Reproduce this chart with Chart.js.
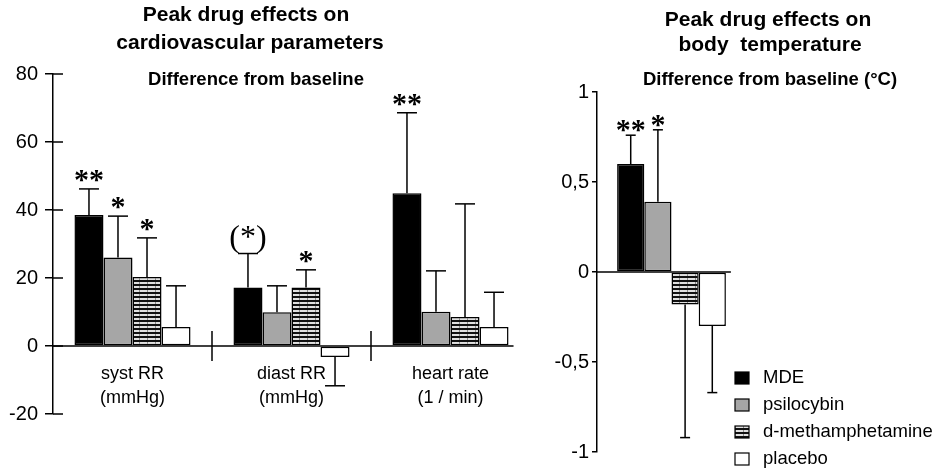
<!DOCTYPE html>
<html><head><meta charset="utf-8">
<script src="https://cdn.jsdelivr.net/npm/chart.js@4"></script>
<style>
html,body{margin:0;padding:0;background:#fff;}
#wrap{position:relative;width:936px;height:469px;overflow:hidden;}
#c1{position:absolute;left:0;top:0;}
#c2{position:absolute;left:540px;top:0;}
</style></head><body>
<div id="wrap"><canvas id="c1" width="540" height="469"></canvas><canvas id="c2" width="396" height="469"></canvas></div>
<script>
// ---------- data ----------
const seriesNames = ["MDE", "psilocybin", "d-methamphetamine", "placebo"];
const cvCategories = [["syst RR", "(mmHg)"], ["diast RR", "(mmHg)"], ["heart rate", "(1 / min)"]];
const cvMDE        = [38.5, 17.2, 44.9];
const cvPsilocybin = [26.0, 9.9, 10.1];
const cvMeth       = [20.3, 17.2, 8.5];
const cvPlacebo    = [5.6, -3.2, 5.6];
const cvErrMDE        = [7.7, 10.0, 23.7];
const cvErrPsilocybin = [12.2, 7.8, 12.0];
const cvErrMeth       = [11.5, 5.2, 33.3];
const cvErrPlacebo    = [12.1, 8.5, 10.2];
const cvSigMDE        = ["**", "(*)", "**"];
const cvSigPsilocybin = ["*", "", ""];
const cvSigMeth       = ["*", "*", ""];
const cvSigPlacebo    = ["", "", ""];
const cvTicks = [-20, 0, 20, 40, 60, 80];

const tempCategories = [""];
const tempMDE        = [0.60];
const tempPsilocybin = [0.39];
const tempMeth       = [-0.18];
const tempPlacebo    = [-0.30];
const tempErrMDE        = [0.16];
const tempErrPsilocybin = [0.40];
const tempErrMeth       = [0.74];
const tempErrPlacebo    = [0.37];
const tempSig = [["**"], ["*"], [""], [""]];
const tempTicks = [-1, -0.5, 0, 0.5, 1];

const cvTitle = ["Peak drug effects on", "cardiovascular parameters"];
const cvSubtitle = "Difference from baseline";
const tempTitle = ["Peak drug effects on", "body  temperature"];
const tempSubtitle = "Difference from baseline (°C)";

// ---------- styles ----------
Chart.defaults.font.family = "'Liberation Sans', Arial, sans-serif";
Chart.defaults.color = '#000';
const TITLE_FONT = "bold 21px 'Liberation Sans', Arial, sans-serif";
const SUB_FONT = "bold 18.5px 'Liberation Sans', Arial, sans-serif";
const SIG_FONT = "bold 30px 'Liberation Serif', 'Times New Roman', serif";
const PAREN_FONT = "32px 'Liberation Serif', 'Times New Roman', serif";

function makeStripe() {
  const c = document.createElement('canvas');
  c.width = 8; c.height = 4;
  const g = c.getContext('2d');
  g.fillStyle = '#e0e0e0'; g.fillRect(0, 0, 8, 4);
  g.fillStyle = '#111'; g.fillRect(0, 0, 8, 2);
  g.fillStyle = '#8a8a8a'; g.fillRect(3, 2, 1, 2);
  return g.createPattern(c, 'repeat');
}
const stripe = makeStripe();
const fills = ['#000000', '#a6a6a6', stripe, '#ffffff'];

function line(ctx, x1, y1, x2, y2) { ctx.beginPath(); ctx.moveTo(x1, y1); ctx.lineTo(x2, y2); ctx.stroke(); }

const decor = {
  id: 'decor',
  afterDraw(chart, args, o) {
    const ctx = chart.ctx, y = chart.scales.y, x = chart.scales.x, ca = chart.chartArea;
    const zero = y.getPixelForValue(0);
    ctx.save();
    ctx.strokeStyle = '#000'; ctx.lineWidth = 1.5; ctx.fillStyle = '#000';
    let maxRight = ca.left;
    chart.data.datasets.forEach((ds, di) => chart.getDatasetMeta(di).data.forEach(b => { maxRight = Math.max(maxRight, b.x + b.width / 2); }));
    line(ctx, ca.left, zero, maxRight + 5, zero);
    if (o.innerTick) o.ticks.forEach(t => { const p = y.getPixelForValue(t); line(ctx, ca.left, p, ca.left + o.innerTick, p); });
    if (o.separators) {
      const n = chart.data.labels.length;
      for (let i = 0; i < n - 1; i++) {
        const px = (x.getPixelForValue(i) + x.getPixelForValue(i + 1)) / 2;
        line(ctx, px, zero - 15, px, zero + 15);
      }
    }
    chart.data.datasets.forEach((ds, di) => {
      chart.getDatasetMeta(di).data.forEach((b, i) => {
        const v = ds.data[i], e = o.errors[di][i];
        const end = v >= 0 ? v + e : v - e;
        const p0 = y.getPixelForValue(v), p1 = y.getPixelForValue(end);
        line(ctx, b.x, p0, b.x, p1);
        line(ctx, b.x - o.cap / 2, p1, b.x + o.cap / 2, p1);
        const s = o.sig[di][i];
        if (s) {
          const paren = s.indexOf('(') >= 0;
          ctx.font = paren ? PAREN_FONT : SIG_FONT; ctx.textAlign = 'center'; ctx.textBaseline = 'alphabetic';
          ctx.fillText(s, b.x, p1 - (paren ? o.parenOff : o.sigOff));
        }
      });
    });
    ctx.textAlign = 'center'; ctx.textBaseline = 'middle';
    o.titles.forEach(t => { ctx.font = t.font; ctx.fillText(t.text, t.x, t.y); });
    if (o.legend) {
      const L = o.legend;
      chart.data.datasets.forEach((ds, di) => {
        const cy = L.y + di * L.dy;
        ctx.fillStyle = ds.backgroundColor;
        ctx.fillRect(L.x, cy - 6, 14, 12);
        ctx.lineWidth = 1.2; ctx.strokeStyle = '#000';
        ctx.strokeRect(L.x, cy - 6, 14, 12);
        ctx.fillStyle = '#000'; ctx.font = L.font; ctx.textAlign = 'left'; ctx.textBaseline = 'middle';
        ctx.fillText(ds.label, L.x + 28, cy);
      });
    }
    ctx.restore();
  }
};

function datasets(values) {
  return values.map((d, i) => ({
    label: seriesNames[i], data: d, backgroundColor: fills[i],
    borderColor: '#000', borderWidth: 1.5, borderSkipped: false
  }));
}

// ---------- left chart ----------
new Chart(document.getElementById('c1'), {
  type: 'bar',
  data: { labels: cvCategories, datasets: datasets([cvMDE, cvPsilocybin, cvMeth, cvPlacebo]) },
  options: {
    responsive: false, animation: false,
    layout: { padding: { left: 0, right: 10, top: 74, bottom: 55 } },
    datasets: { bar: { categoryPercentage: 0.73, barPercentage: 1.0 } },
    plugins: {
      legend: { display: false }, tooltip: { enabled: false },
      decor: {
        errors: [cvErrMDE, cvErrPsilocybin, cvErrMeth, cvErrPlacebo],
        sig: [cvSigMDE, cvSigPsilocybin, cvSigMeth, cvSigPlacebo],
        cap: 20, sigOff: 0, parenOff: 7,
        innerTick: 10, ticks: cvTicks, separators: true,
        titles: [
          { text: cvTitle[0], x: 246, y: 15, font: TITLE_FONT },
          { text: cvTitle[1], x: 250, y: 43, font: TITLE_FONT },
          { text: cvSubtitle, x: 256, y: 80, font: SUB_FONT }
        ]
      }
    },
    scales: {
      x: {
        type: 'category', position: { y: 0 }, offset: true,
        grid: { display: false }, border: { display: false },
        ticks: { font: { size: 18, lineHeight: 1.33 }, color: '#000', padding: 8, maxRotation: 0, autoSkip: false }
      },
      y: {
        min: -20, max: 80,
        afterBuildTicks: s => { s.ticks = cvTicks.map(v => ({ value: v })); },
        ticks: { font: { size: 20 }, color: '#000', padding: 7 },
        grid: { drawOnChartArea: false, drawTicks: true, tickLength: 8, color: '#000', lineWidth: 1.5 },
        border: { display: true, color: '#000', width: 1.5 },
        afterFit: s => { s.width = 53; }
      }
    }
  },
  plugins: [decor]
});

// ---------- right chart ----------
new Chart(document.getElementById('c2'), {
  type: 'bar',
  data: { labels: tempCategories, datasets: datasets([tempMDE, tempPsilocybin, tempMeth, tempPlacebo]) },
  options: {
    responsive: false, animation: false,
    layout: { padding: { left: 0, right: 190, top: 92, bottom: 17 } },
    datasets: { bar: { categoryPercentage: 0.73, barPercentage: 1.0 } },
    plugins: {
      legend: { display: false }, tooltip: { enabled: false },
      decor: {
        errors: [tempErrMDE, tempErrPsilocybin, tempErrMeth, tempErrPlacebo],
        sig: tempSig,
        cap: 10, sigOff: -4, parenOff: 7,
        innerTick: 0, ticks: tempTicks, separators: false,
        titles: [
          { text: tempTitle[0], x: 228, y: 20, font: TITLE_FONT },
          { text: tempTitle[1], x: 230, y: 45, font: TITLE_FONT },
          { text: tempSubtitle, x: 230, y: 80, font: SUB_FONT }
        ],
        legend: { x: 195, y: 378, dy: 27, font: "18.5px 'Liberation Sans', Arial, sans-serif" }
      }
    },
    scales: {
      x: { display: false, offset: true },
      y: {
        min: -1, max: 1,
        afterBuildTicks: s => { s.ticks = tempTicks.map(v => ({ value: v })); },
        ticks: { font: { size: 20 }, color: '#000', padding: 3, callback: v => String(v).replace('.', ',') },
        grid: { drawOnChartArea: false, drawTicks: true, tickLength: 5, color: '#000', lineWidth: 1.5 },
        border: { display: true, color: '#000', width: 1.5 },
        afterFit: s => { s.width = 57; }
      }
    }
  },
  plugins: [decor]
});
</script>
</body></html>
